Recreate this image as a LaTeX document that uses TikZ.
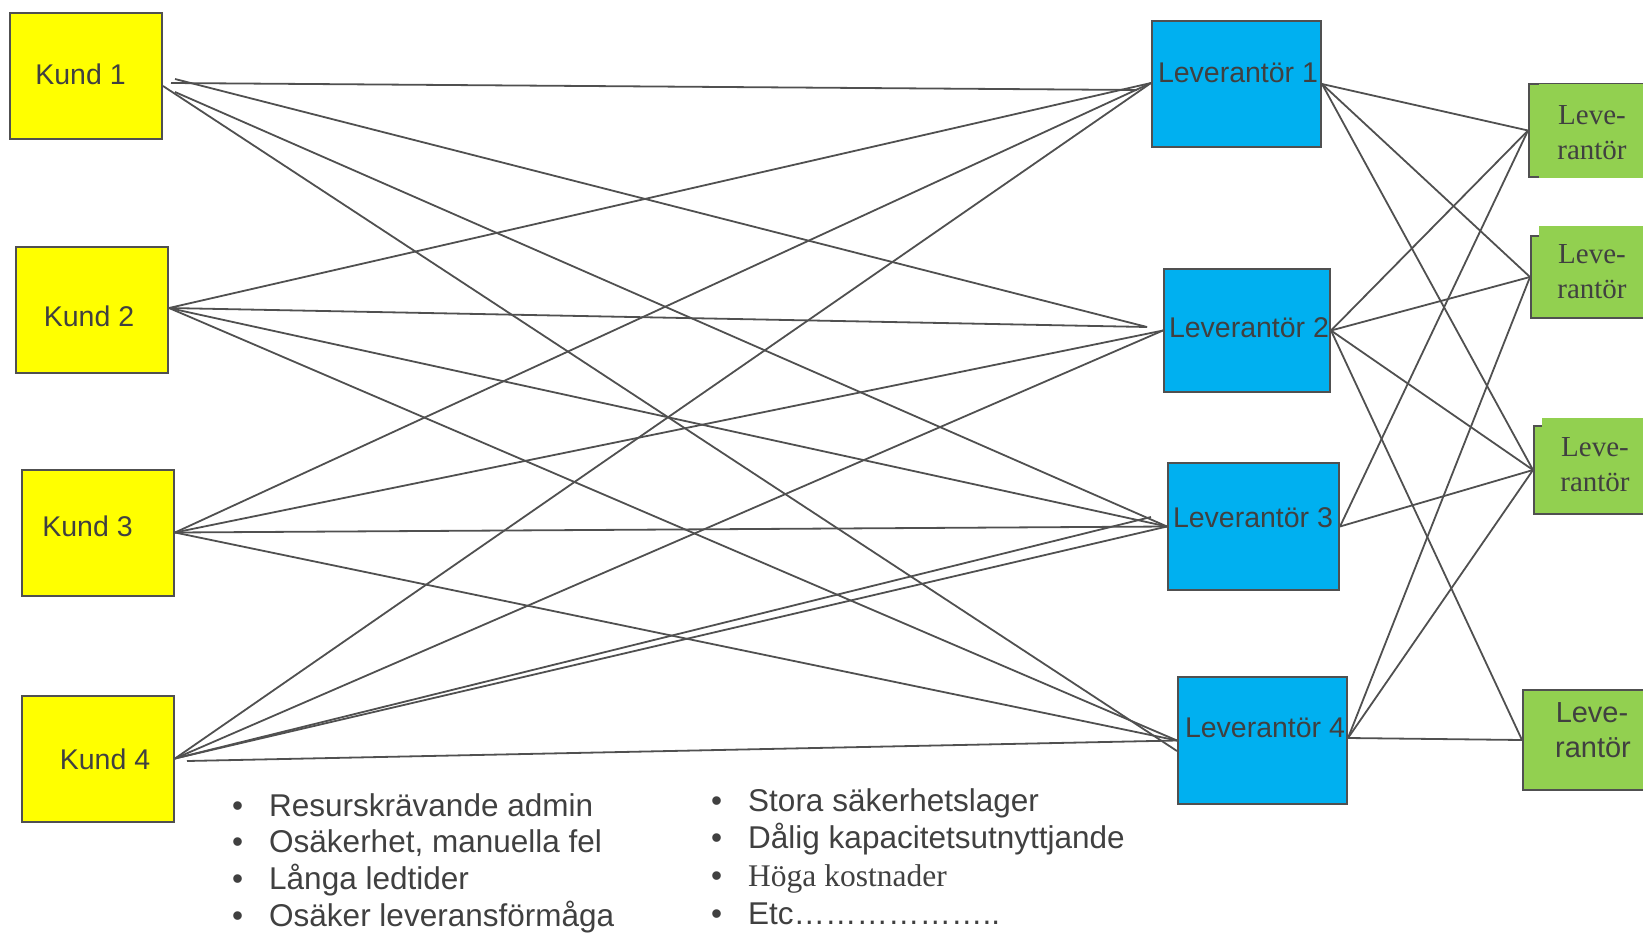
\documentclass[tikz,border=0pt]{standalone}
\usepackage{fontspec}
\setmainfont{Liberation Sans}
\newfontfamily\serifface{Liberation Serif}
\usetikzlibrary{calc}
\definecolor{kyellow}{HTML}{FFFF00}
\definecolor{lblue}{HTML}{00B0F0}
\definecolor{ggreen}{HTML}{92D050}
\definecolor{edgegray}{HTML}{505050}
\definecolor{txtgray}{HTML}{404040}
\begin{document}
\begin{tikzpicture}[x=1pt,y=-1pt,
  kundbox/.style={draw=edgegray,line width=2pt,fill=kyellow,minimum width=152pt,minimum height=126pt,inner sep=0pt},
  levbox/.style={draw=edgegray,line width=2pt,fill=lblue,minimum height=126pt,inner sep=0pt},
  grbox/.style={draw=edgegray,line width=2pt,fill=ggreen},
  grfill/.style={fill=ggreen},
  link/.style={draw=edgegray,line width=1.8pt},
  lbl/.style={text=txtgray,font=\fontsize{28.5}{34}\selectfont,inner sep=0pt},
  glbl/.style={text=txtgray,font=\serifface\fontsize{29}{35}\selectfont,inner sep=0pt,anchor=base},
  glbls/.style={text=txtgray,font=\fontsize{29}{35}\selectfont,inner sep=0pt,anchor=base},
  bul/.style={text=txtgray,font=\fontsize{31.5}{37}\selectfont,inner sep=0pt,anchor=base west}]
\useasboundingbox (0,0) rectangle (1643,934);

% customer boxes
\node[kundbox] (K1) at (86,76) {};
\node[kundbox] (K2) at (92,310) {};
\node[kundbox] (K3) at (98,532.5) {};
\node[kundbox] (K4) at (98,758.5) {};
\node[lbl] (K1t) at (80.5,74) {Kund 1};
\node[lbl] (K2t) at (89,316) {Kund 2};
\node[lbl] (K3t) at (87.5,526) {Kund 3};
\node[lbl] (K4t) at (105,759) {Kund 4};

% supplier boxes
\node[levbox,minimum width=169pt] (L1) at (1236.5,84) {};
\node[levbox,minimum width=166pt,minimum height=123pt] (L2) at (1247,330.5) {};
\node[levbox,minimum width=171pt,minimum height=127pt] (L3) at (1253.5,526.5) {};
\node[levbox,minimum width=169pt,minimum height=127pt] (L4) at (1262.5,740.5) {};
\node[lbl] (L1t) at (1238,73) {Leverantör 1};
\node[lbl] (L2t) at (1249,328) {Leverantör 2};
\node[lbl] (L3t) at (1253,518) {Leverantör 3};
\node[lbl] (L4t) at (1265,728) {Leverantör 4};

% sub-supplier boxes (extend past right edge)
\node[grbox,minimum width=172pt,minimum height=93pt,anchor=north west] (G1) at (1528,83) {};
\fill[grfill] (1539,84.2) rectangle (1700,178);
\node[grbox,minimum width=170pt,minimum height=82pt,anchor=north west] (G2) at (1530,235) {};
\fill[grfill] (1539,226) rectangle (1700,237);
\node[grbox,minimum width=167pt,minimum height=88pt,anchor=north west] (G3) at (1533,425) {};
\fill[grfill] (1542,418) rectangle (1700,427);
\node[grbox,minimum width=178pt,minimum height=100pt,anchor=north west] (G4) at (1522,689) {};
\node[glbl] (G1a) at (1592,124) {Leve-};
\node[glbl] (G1b) at (1592,159) {rantör};
\node[glbl] (G2a) at (1592,263) {Leve-};
\node[glbl] (G2b) at (1592,298) {rantör};
\node[glbl] (G3a) at (1595,456) {Leve-};
\node[glbl] (G3b) at (1595,491) {rantör};
\node[glbls] (G4a) at (1592,722) {Leve-};
\node[glbls] (G4b) at (1593,757) {rantör};

% line end points
\coordinate (k1a) at ([shift={(8,7)}]K1.east);
\coordinate (k1b) at ([shift={(12,3)}]K1.east);
\coordinate (k1c) at ([shift={(12,16)}]K1.east);
\coordinate (k1d) at ([shift={(0,10)}]K1.east);
\coordinate (k2) at ([shift={(0,-2)}]K2.east);
\coordinate (k3) at (K3.east);
\coordinate (k4) at (K4.east);
\coordinate (k4e) at ([shift={(12,2.5)}]K4.east);
\coordinate (l1in) at ([shift={(0,-1)}]L1.west);
\coordinate (l1s) at ([shift={(-14,6)}]L1.west);
\coordinate (l2in) at (L2.west);
\coordinate (l2s) at ([shift={(-16,-3.5)}]L2.west);
\coordinate (l3in) at (L3.west);
\coordinate (l3s) at ([shift={(-16,-9.5)}]L3.west);
\coordinate (l4in) at (L4.west);
\coordinate (l4s) at ([shift={(0,10.5)}]L4.west);
\coordinate (l4out) at ([shift={(0,-2.5)}]L4.east);

% customers to suppliers
\draw[link] (k1a) -- (l1s);
\draw[link] (k1b) -- (l2s);
\draw[link] (k1c) -- (l3in);
\draw[link] (k1d) -- (l4s);
\draw[link] (k2) -- (l1in);
\draw[link] (k2) -- (l2s);
\draw[link] (k2) -- (l3in);
\draw[link] (k2) -- (l4in);
\draw[link] (k3) -- (l1in);
\draw[link] (k3) -- (l2in);
\draw[link] (k3) -- (l3in);
\draw[link] (k3) -- (l4in);
\draw[link] (k4) -- (l1in);
\draw[link] (k4) -- (l2in);
\draw[link] (k4) -- (l3s);
\draw[link] (k4) -- (l3in);
\draw[link] (k4e) -- (l4in);

% suppliers to sub-suppliers
\draw[link] (L1.east) -- (G1.west);
\draw[link] (L1.east) -- (G2.west);
\draw[link] (L1.east) -- (G3.west);
\draw[link] (L2.east) -- (G1.west);
\draw[link] (L2.east) -- (G2.west);
\draw[link] (L2.east) -- (G3.west);
\draw[link] (L2.east) -- (G4.west);
\draw[link] (L3.east) -- (G1.west);
\draw[link] (L3.east) -- (G3.west);
\draw[link] (l4out) -- (G2.west);
\draw[link] (l4out) -- (G3.west);
\draw[link] (l4out) -- (G4.west);

% bullet lists
\node[bul] (b1) at (232,816) {\textbullet\hspace{26pt}Resurskrävande admin};
\node[bul] (b2) at (232,852) {\textbullet\hspace{26pt}Osäkerhet, manuella fel};
\node[bul] (b3) at (232,889) {\textbullet\hspace{26pt}Långa ledtider};
\node[bul] (b4) at (232,926) {\textbullet\hspace{26pt}Osäker leveransförmåga};
\node[bul] (c1) at (711,811) {\textbullet\hspace{26pt}Stora säkerhetslager};
\node[bul] (c2) at (711,848) {\textbullet\hspace{26pt}Dålig kapacitetsutnyttjande};
\node[bul] (c3) at (711,886) {\textbullet\hspace{26pt}{\serifface Höga kostnader}};
\node[bul] (c4) at (711,924) {\textbullet\hspace{26pt}Etc………………..};
\end{tikzpicture}
\end{document}
